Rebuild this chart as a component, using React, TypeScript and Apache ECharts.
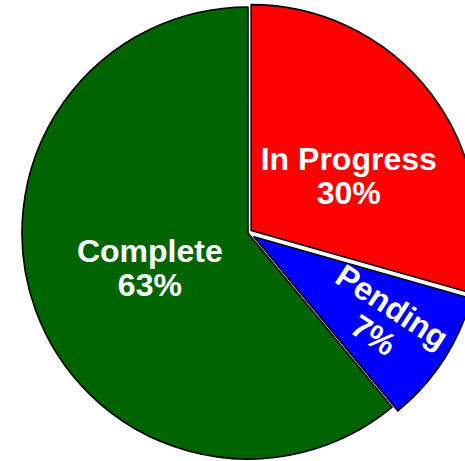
import React, { useEffect, useRef } from 'react';
import * as echarts from 'echarts';

// categories and the share of the circle each wedge covers
const categories = ['In Progress', 'Pending', 'Complete'];
const sliceValues = [29.4, 9.6, 61];
// percentages printed in the labels
const labelPercents = [30, 7, 63];

const sliceColors = ['#ff0000', '#0000ff', '#006400'];
const sliceOffsets = [4, 7, 0];
const labelShift = [[5, 15], [38, 0], [11, -4]];

export default function App() {
  const ref = useRef<HTMLDivElement>(null);
  useEffect(() => {
    document.body.style.margin = '0';
    const chart = echarts.init(ref.current!, null, { renderer: 'svg' });
    const series = categories.map((_, i) => ({
      type: 'pie',
      center: [248, 233],
      radius: 226,
      startAngle: 90,
      clockwise: true,
      silent: true,
      selectedMode: 'single',
      selectedOffset: sliceOffsets[i],
      emphasis: { disabled: true },
      labelLine: { show: false },
      labelLayout: () => ({ dx: labelShift[i][0], dy: labelShift[i][1] }),
      data: categories.map((name, j) => ({
        name,
        value: sliceValues[j],
        selected: j === i && sliceOffsets[i] > 0,
        itemStyle:
          j === i
            ? { color: sliceColors[j], borderColor: '#000', borderWidth: 1.6 }
            : { color: 'rgba(0,0,0,0)', borderWidth: 0 },
        label:
          j === i
            ? {
                show: true,
                position: 'inside',
                formatter: name + '\n' + labelPercents[j] + '%',
                color: '#fff',
                fontWeight: 'bold',
                fontSize: 32,
                lineHeight: 34,
                fontFamily: 'Liberation Sans, Arial, sans-serif',
                rotate: i === 1 ? 'radial' : 0,
              }
            : { show: false },
      })),
    }));
    chart.setOption({ animation: false, series });
    return () => chart.dispose();
  }, []);
  return (
    <div
      ref={ref}
      style={{ position: 'absolute', left: 0, top: 0, width: 465, height: 461 }}
    />
  );
}
